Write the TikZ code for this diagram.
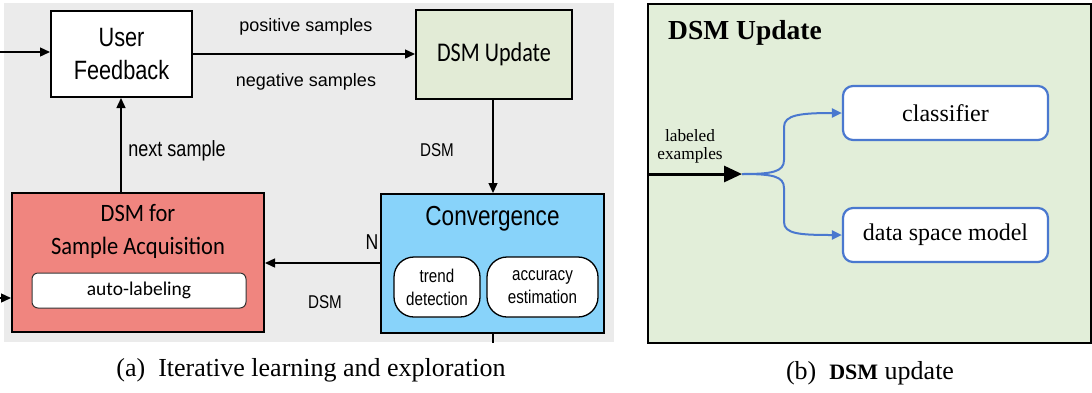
\documentclass[tikz,border=0pt]{standalone}
\usepackage{fontspec}
\setmainfont{Liberation Serif}
\newfontfamily\helv{Liberation Sans}
\newfontfamily\helvc[FakeStretch=0.82]{Liberation Sans}
\newfontfamily\carl{Carlito}
\newfontfamily\carlc[FakeStretch=0.9]{Carlito}
\newfontfamily\carlcc[FakeStretch=0.82]{Carlito}
\usetikzlibrary{arrows.meta}
\definecolor{bggray}{HTML}{EBEBEB}
\definecolor{upgreen}{HTML}{E2EBD6}
\definecolor{panelgreen}{HTML}{E2EED9}
\definecolor{acqred}{HTML}{F0857F}
\definecolor{convblue}{HTML}{88D3FA}
\definecolor{linkblue}{HTML}{4A78CF}
\tikzset{
  box/.style={draw=black, line width=2pt, inner sep=0pt},
  pill/.style={draw=black, line width=1.3pt, fill=white, rounded corners=20pt, inner sep=0pt, align=center, font=\helvc\fontsize{18.5}{23}\selectfont},
  conn/.style={line width=1.4pt, -{Triangle[length=10pt,width=9pt]}},
  lbl/.style={font=\helv\fontsize{18}{22}\selectfont, inner sep=0pt},
  bluebox/.style={draw=linkblue, line width=2.2pt, fill=white, rounded corners=10pt, minimum width=205pt, minimum height=54pt, inner sep=0pt, font=\fontsize{24}{28}\selectfont},
  blueconn/.style={draw=linkblue, line width=2pt, -{Triangle[length=10pt,width=9pt]}, color=linkblue},
}
\begin{document}
\begin{tikzpicture}[x=1pt,y=-1pt]
\useasboundingbox (0,0) rectangle (1092,392);
% left panel background
\fill[bggray] (4,3) rectangle (614,342);
% nodes
\node[box, fill=white, minimum width=141pt, minimum height=86pt, align=center,
      font=\helvc\fontsize{26.5}{33}\selectfont] (uf) at (121.5,54) {User\\Feedback};
\node[box, fill=upgreen, minimum width=156pt, minimum height=89pt,
      font=\carlcc\fontsize{27}{30}\selectfont] (dsmu) at (494,54.5) {DSM Update};
\node[box, fill=acqred, minimum width=252pt, minimum height=139pt] (acq) at (138,262.5) {};
\node[align=center, inner sep=0pt, font=\carlc\fontsize{25}{33}\selectfont] (acqt) at (138,231.5) {DSM for\\Sample Acquisition};
\node[draw=black!80, line width=1pt, fill=white, rounded corners=6pt, minimum width=214pt, minimum height=35pt, inner sep=0pt,
      font=\carl\fontsize{19.5}{22}\selectfont] (auto) at (139,290.5) {auto-labeling};
\node[box, fill=convblue, minimum width=223pt, minimum height=139pt] (conv) at (492.5,263.5) {};
\node[inner sep=0pt, font=\helvc\fontsize{27.5}{30}\selectfont] (convt) at (492.5,219) {Convergence};
\node[pill, minimum width=86pt, minimum height=60pt] (trend) at (437,287) {trend\\detection};
\node[pill, minimum width=111pt, minimum height=60pt] (acc) at (542.5,287) {accuracy\\estimation};
% coordinates
\coordinate (in1) at (0,52);
\coordinate (in2) at (0,298);
\coordinate (out1) at (493,343);
% connectors
\draw[conn] (in1) -- (uf.west |- in1);
\draw[conn] (uf.east |- 0,54) -- (dsmu.west |- 0,54);
\draw[conn] (dsmu.south -| 493,0) -- (conv.north -| 493,0);
\draw[conn] (conv.west |- 0,263) -- (acq.east |- 0,263);
\draw[conn] (acq.north -| 121,0) -- (uf.south -| 121,0);
\draw[conn] (in2) -- (acq.west |- in2);
\draw[line width=1.4pt] (conv.south -| out1) -- (out1);
% labels
\node[lbl] (pos) at (306,27) {positive samples};
\node[lbl] (neg) at (306,82) {negative samples};
\node[inner sep=0pt, font=\helvc\fontsize{22}{26}\selectfont] (next) at (177,151) {next sample};
\node[inner sep=0pt, font=\helvc\fontsize{18.5}{22}\selectfont] (dsml1) at (437,150) {DSM};
\node[inner sep=0pt, font=\helvc\fontsize{21.5}{24}\selectfont] (nl) at (372,242) {N};
\node[inner sep=0pt, font=\helvc\fontsize{18.5}{22}\selectfont] (dsml2) at (325,302) {DSM};
% caption a
\node[inner sep=0pt, font=\fontsize{26}{30}\selectfont] (capa) at (311,370) {(a)\enspace Iterative learning and exploration};

% right panel
\draw[line width=2pt, fill=panelgreen] (648,4) rectangle (1091,343);
\node[anchor=west, inner sep=0pt, font=\bfseries\fontsize{27.5}{32}\selectfont] (title) at (668,33) {DSM Update};
\node[bluebox] (cls) at (945.5,113) {classifier};
\node[bluebox] (dsm) at (945.5,235) {data space model};
\node[align=center, inner sep=0pt, font=\fontsize{17.3}{18}\selectfont] (lab) at (690,146) {labeled\\examples};
\coordinate (lin) at (648,174);
\coordinate (split) at (742,174);
\draw[line width=3pt, -{Triangle[length=18pt,width=16pt]}] (lin) -- (split);
\draw[blueconn] (split) .. controls (772,174) and (784,172) .. (784,160) -- (784,127)
   .. controls (784,115) and (800,113) .. (cls.west);
\draw[blueconn] (split) .. controls (772,174) and (784,176) .. (784,188) -- (784,222)
   .. controls (784,234) and (800,235) .. (dsm.west);
% caption b
\node[inner sep=0pt, font=\fontsize{26}{30}\selectfont] (capb) at (870,373) {(b)\enspace{\bfseries\fontsize{22}{30}\selectfont DSM} update};
\end{tikzpicture}
\end{document}
